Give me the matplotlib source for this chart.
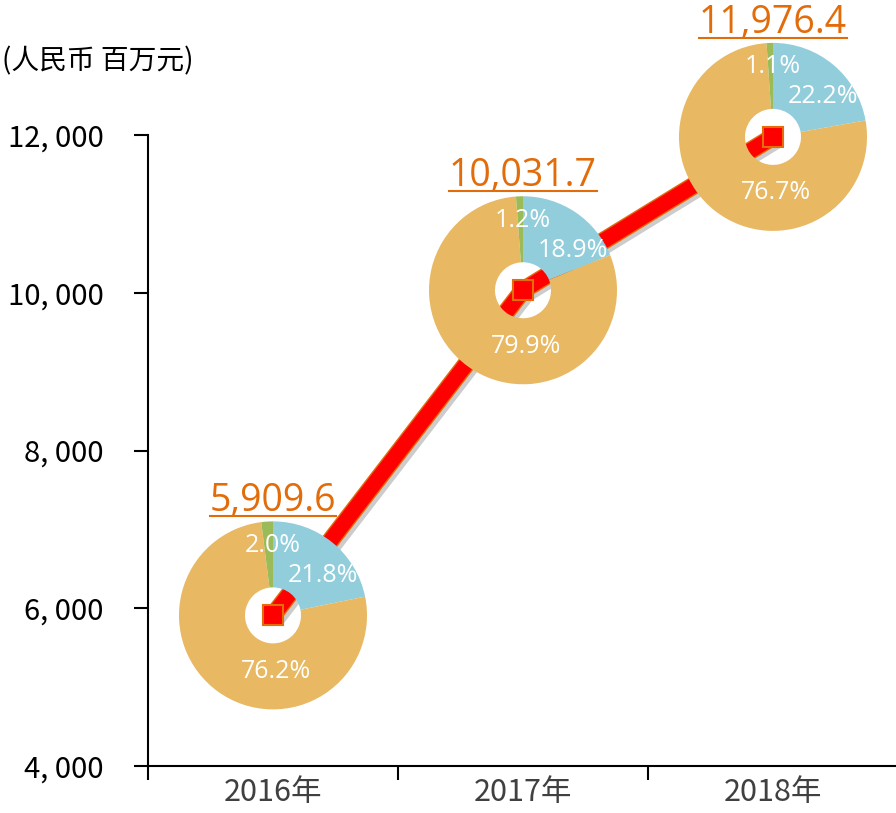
import numpy as np
import matplotlib
matplotlib.use('Agg')
import matplotlib.pyplot as plt
import matplotlib.patheffects as pe
from matplotlib.patches import Wedge, Circle
from matplotlib.lines import Line2D
from matplotlib.transforms import ScaledTranslation, IdentityTransform
from matplotlib.ticker import FuncFormatter

plt.rcParams['font.family'] = ['Noto Sans CJK SC', 'DejaVu Sans']

# data
years = ['2016年', '2017年', '2018年']
revenue = [5909.6, 10031.7, 11976.4]
share_blue = [21.8, 18.9, 22.2]
share_orange = [76.2, 79.9, 76.7]
share_green = [2.0, 1.2, 1.1]
value_labels = ['5,909.6', '10,031.7', '11,976.4']

c_blue = '#92CDDC'
c_orange = '#E8B862'
c_green = '#9BBB59'
c_text = '#E26B0A'
c_edge = '#E46C0A'

fig = plt.figure(figsize=(8.96, 8.13), dpi=100)
fig.patch.set_facecolor('white')
ax = fig.add_axes([148/896, 47/813, 750/896, 766/813])
ax.set_xlim(-0.5, 2.5)
ax.set_ylim(4000, 13712)
ax.patch.set_alpha(0)

xs = np.arange(len(years))

# line with border and shadow
ax.plot(xs, revenue, color='#FF0000', lw=11, solid_capstyle='butt',
        solid_joinstyle='miter', zorder=3,
        path_effects=[pe.SimpleLineShadow(offset=(3, -3), alpha=0.2),
                      pe.Stroke(linewidth=13, foreground=c_edge),
                      pe.Normal()])
ax.plot(xs, revenue, linestyle='none', marker='s', markersize=14,
        markerfacecolor='#FF0000', markeredgecolor=c_edge, markeredgewidth=1.5,
        zorder=3.5)

# donuts
r_out = 0.94
r_in = 0.28
for i in range(len(years)):
    tr = fig.dpi_scale_trans + ScaledTranslation(xs[i], revenue[i], ax.transData)
    ax.add_patch(Circle((0, 0), r_in, transform=tr, facecolor='white',
                        edgecolor='none', zorder=2))
    start = 90.0
    for share, col in [(share_blue[i], c_blue), (share_orange[i], c_orange),
                       (share_green[i], c_green)]:
        ang = share * 3.6
        ax.add_patch(Wedge((0, 0), r_out, start - ang, start, width=r_out - r_in,
                           transform=tr, facecolor=col, edgecolor='none', zorder=4))
        start -= ang
    for txt, off in [(f'{share_green[i]:.1f}%', (0, 70)),
                     (f'{share_blue[i]:.1f}%', (50, 40)),
                     (f'{share_orange[i]:.1f}%', (3, -56))]:
        ax.annotate(txt, xy=(xs[i], revenue[i]), xytext=off, textcoords='offset pixels',
                    ha='center', va='center', color='white', fontsize=18,
                    family=['Open Sans', 'DejaVu Sans'], zorder=6)

# value labels
lab_off = 104
vtexts = []
for i in range(len(years)):
    t = ax.annotate(value_labels[i], xy=(xs[i], revenue[i]), xytext=(0, lab_off),
                    textcoords='offset pixels', ha='center', va='baseline',
                    color=c_text, fontsize=27, family=['Open Sans', 'DejaVu Sans'],
                    zorder=6, annotation_clip=False)
    vtexts.append(t)

# axes styling
for s in ['top', 'right']:
    ax.spines[s].set_visible(False)
ax.spines['left'].set_bounds(4000, 12000)
ax.spines['left'].set_linewidth(1.5)
ax.spines['bottom'].set_linewidth(1.5)
ax.set_yticks([4000, 6000, 8000, 10000, 12000])
ax.yaxis.set_major_formatter(FuncFormatter(lambda v, p: f'{v:,.0f}'.replace(',', ', ')))
ax.tick_params(axis='y', direction='out', length=10, width=1.5, labelsize=21, pad=22)
ax.set_xticks([-0.5, 0.5, 1.5])
ax.set_xticklabels([])
ax.tick_params(axis='x', which='major', direction='out', length=10, width=1.5)
ax.set_xticks(xs, minor=True)
ax.set_xticklabels(years, minor=True)
ax.tick_params(axis='x', which='minor', length=0, labelsize=22, labelcolor='#404040', pad=8)

fig.text(0.002, 0.924, '(人民币 百万元)', fontsize=20, style='italic',
         ha='left', va='center')

# underline value labels
fig.canvas.draw()
for t in vtexts:
    bb = t.get_window_extent()
    ybase = ax.transData.transform(t.xy)[1] + lab_off - 5
    fig.add_artist(Line2D([bb.x0, bb.x1], [ybase, ybase], color=c_text, lw=1.5,
                          transform=IdentityTransform()))

fig.savefig('out.png', dpi=100)
